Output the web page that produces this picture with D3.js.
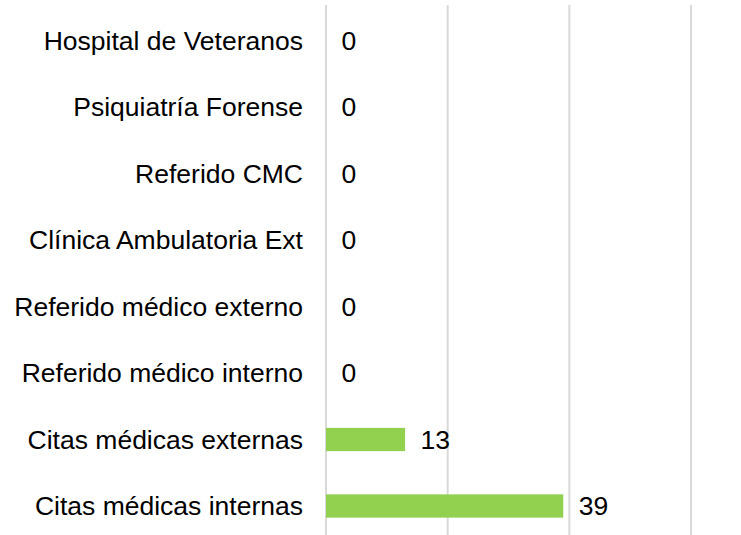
<!DOCTYPE html>
<html><head><meta charset="utf-8">
<script src="https://cdn.jsdelivr.net/npm/d3@7"></script>
<style>html,body{margin:0;padding:0;background:#fff;}svg{display:block;}</style>
</head><body>
<script>
const categories = ["Hospital de Veteranos","Psiquiatría Forense","Referido CMC","Clínica Ambulatoria Ext","Referido médico externo","Referido médico interno","Citas médicas externas","Citas médicas internas"];
const values = [0,0,0,0,0,0,13,39];
const ticks = [0,20,40,60];

const W=741,H=535;
const svg=d3.select("body").append("svg").attr("width",W).attr("height",H);
const x=d3.scaleLinear().domain([0,60]).range([326,691]);
const y=d3.scaleBand().domain(categories).range([7.25,539.25]).paddingInner(0.65).paddingOuter(0.325);
const font="'Liberation Sans', Arial, Helvetica, sans-serif";
const fs=26.5;

svg.append("g").selectAll("line").data(ticks).join("line")
  .attr("x1",d=>x(d)).attr("x2",d=>x(d)).attr("y1",5).attr("y2",H)
  .attr("stroke","#d9d9d9").attr("stroke-width",2);

svg.append("g").selectAll("rect").data(values).join("rect")
  .attr("x",x(0)).attr("y",(d,i)=>y(categories[i]))
  .attr("width",d=>x(d)-x(0)).attr("height",y.bandwidth())
  .attr("fill","#92d050");

const axis=d3.axisLeft(y).tickSize(0).tickPadding(23);
const ga=svg.append("g").attr("transform",`translate(${x(0)},0)`).call(axis);
ga.select(".domain").remove();
ga.selectAll("text").attr("font-family",font).attr("font-size",fs).attr("fill","#000").attr("dy","0.35em");

svg.append("g").selectAll("text").data(values).join("text")
  .attr("x",d=>x(d)+15.5).attr("y",(d,i)=>y(categories[i])+y.bandwidth()/2)
  .attr("dy","0.35em").attr("font-family",font).attr("font-size",fs).attr("fill","#000")
  .text(d=>d);
</script>
</body></html>
